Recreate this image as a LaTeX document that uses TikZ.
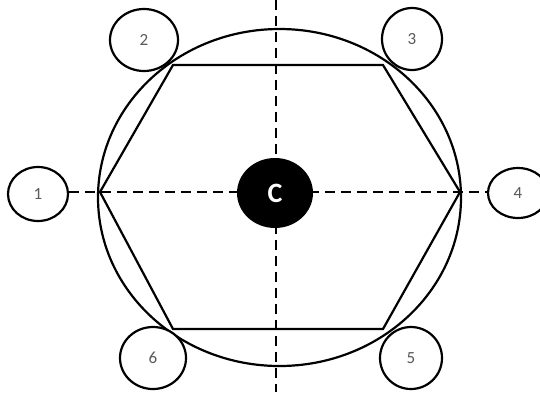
\documentclass[tikz,border=0pt]{standalone}
\usepackage{fontspec}
\setmainfont{Carlito}
\usetikzlibrary{shapes.geometric}
\begin{document}
\begin{tikzpicture}[x=1pt,y=-1pt,
  solidline/.style={line width=2.2pt, black},
  dashline/.style={line width=2.8pt, black, dash pattern=on 10pt off 6pt},
  numnode/.style={draw, line width=2.2pt, ellipse, inner sep=0pt, fill=white,
    text=black!65, font=\fontsize{17}{19}\selectfont},
  numtext/.style={text=black!65, font=\fontsize{17}{19}\selectfont},
  centernode/.style={ellipse, fill=black, inner sep=0pt, minimum width=76pt,
    minimum height=70pt, text=white, font=\fontsize{28}{30}\selectfont\bfseries}]
\useasboundingbox (0,0) rectangle (540,392);
% hexagon vertices
\coordinate (h1) at (100,192);
\coordinate (h2) at (173,65);
\coordinate (h3) at (383,65);
\coordinate (h4) at (460,192);
\coordinate (h5) at (383,329);
\coordinate (h6) at (173,329);
\coordinate (vt) at (276,0);
\coordinate (vb) at (276,392);
% big circle
\draw[solidline] (279.5,197.5) ellipse [x radius=181.5, y radius=168.5];
% hexagon
\draw[solidline, line join=miter] (h1) -- (h2) -- (h3) -- (h4) -- (h5) -- (h6) -- cycle;
% numbered nodes
\node[numnode, minimum width=60pt, minimum height=54pt] (n1) at (38,194) {\raisebox{-5pt}{1}};
\node[numnode, minimum width=68pt, minimum height=62pt] (n2) at (144,40) {\raisebox{-3pt}{2}};
\node[numnode, minimum width=60pt, minimum height=62pt] (n3) at (412,39) {\raisebox{-3pt}{3}};
\node[numnode, minimum width=60pt, minimum height=50pt] (n4) at (518,193) {\raisebox{-2pt}{4}};
\node[numnode, minimum width=62pt, minimum height=62pt] (n5) at (411,358) {\raisebox{-3pt}{5}};
\node[numnode, minimum width=66pt, minimum height=62pt] (n6) at (153,358) {\raisebox{-3pt}{6}};
% dashed axes
\draw[dashline] (n1.east |- h1) -- (n4.west |- h4);
\draw[dashline] (vt) -- (vb);
% centre
\node[centernode] (C) at (275,193) {C};
\end{tikzpicture}
\end{document}
